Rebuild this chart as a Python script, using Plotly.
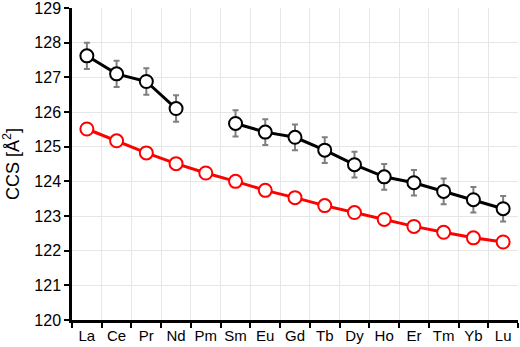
import plotly.graph_objects as go

elements = ["La", "Ce", "Pr", "Nd", "Pm", "Sm", "Eu", "Gd", "Tb", "Dy", "Ho", "Er", "Tm", "Yb", "Lu"]
ccs_exp = [127.62, 127.10, 126.88, 126.10, None, 125.67, 125.42, 125.27, 124.90, 124.48, 124.13, 123.96, 123.71, 123.47, 123.21]
ccs_err = [0.38, 0.38, 0.38, 0.38, None, 0.38, 0.37, 0.37, 0.37, 0.37, 0.37, 0.37, 0.37, 0.37, 0.37]
ccs_calc = [125.51, 125.17, 124.82, 124.51, 124.24, 124.00, 123.74, 123.53, 123.30, 123.10, 122.90, 122.70, 122.53, 122.37, 122.25]

fig = go.Figure()
fig.add_trace(go.Scatter(
    x=elements, y=ccs_calc, mode="lines+markers",
    line=dict(color="#ff0000", width=3),
    marker=dict(symbol="circle", size=13, color="white", line=dict(color="#ff0000", width=2)),
    showlegend=False, cliponaxis=False,
))
fig.add_trace(go.Scatter(
    x=elements, y=ccs_exp, mode="lines+markers", connectgaps=False,
    line=dict(color="black", width=3),
    marker=dict(symbol="circle", size=13, color="white", line=dict(color="black", width=2)),
    error_y=dict(type="data", array=ccs_err, visible=True, color="#7f7f7f", thickness=2, width=3),
    showlegend=False, cliponaxis=False,
))

fig.update_layout(
    width=520, height=347,
    margin=dict(l=72, r=2, t=8, b=27),
    paper_bgcolor="white", plot_bgcolor="white",
    font=dict(family="Liberation Sans, Arial, sans-serif", size=15, color="black"),
    xaxis=dict(
        type="category", range=[-0.5, 14.5], tickson="boundaries",
        tickangle=0, automargin=False,
        showline=True, linecolor="black", linewidth=2.5,
        ticks="outside", ticklen=5, tickwidth=2, tickcolor="black",
        showgrid=True, gridcolor="#e6e6e6", gridwidth=1,
        tickfont=dict(size=15),
    ),
    yaxis=dict(
        range=[120, 129], dtick=1, automargin=False, ticklabeloverflow="allow",
        showline=True, linecolor="black", linewidth=2.5,
        ticks="outside", ticklen=5, tickwidth=2, tickcolor="black",
        showgrid=True, gridcolor="#e6e6e6", gridwidth=1,
        zeroline=False,
        title=dict(text="CCS [Å<sup>2</sup>]", font=dict(size=18), standoff=12),
        tickfont=dict(size=16),
    ),
)

fig.write_html("out.html", config={"displayModeBar": False},
               post_script="document.body.style.margin='0';document.body.style.overflow='hidden';")
